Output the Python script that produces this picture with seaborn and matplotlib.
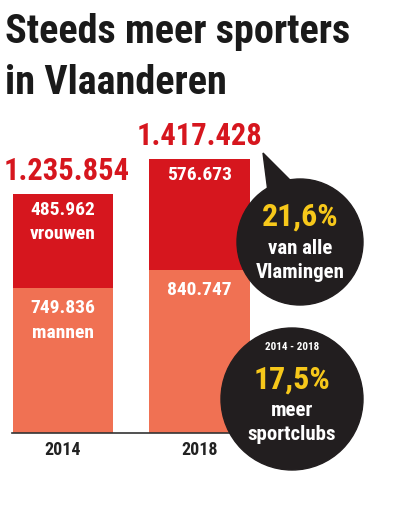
import pandas as pd
import matplotlib
matplotlib.use("Agg")
import matplotlib.pyplot as plt
import seaborn as sns
from matplotlib import font_manager
from matplotlib.patches import Circle, Polygon

# gegevens
jaren = ["2014", "2018"]
vrouwen = [485962, 576673]
mannen = [749836, 840747]
totaal = [1235854, 1417428]
totaal_tekst = ["1.235.854", "1.417.428"]
vrouwen_tekst = [["485.962", "vrouwen"], ["576.673"]]
mannen_tekst = [["749.836", "mannen"], ["840.747"]]

rood = "#d6161e"
zalm = "#f07153"
zwart = "#221e1f"
geel = "#f7c81a"

sns.set_theme(style="white")

# condensed lettertype kiezen als het er is
namen = {f.name for f in font_manager.fontManager.ttflist}
font = "DejaVu Sans"
for kandidaat in ["Roboto Condensed", "Liberation Sans Narrow", "Open Sans Condensed"]:
    if kandidaat in namen:
        font = kandidaat
        break
plt.rcParams["font.family"] = [font, "DejaVu Sans"]

df = pd.DataFrame({"jaar": jaren, "totaal": totaal, "mannen": mannen})

fig = plt.figure(figsize=(3.96, 5.13), dpi=100)
W, H = 396, 513
px = 1.5e6 / 290  # eenheden per pixel

# staafdiagram
ax = fig.add_axes([12.5 / W, (H - 433) / H, 237 / W, 290 / H])
sns.barplot(data=df, x="jaar", y="totaal", color=rood, width=0.73,
            saturation=1, ax=ax, edgecolor="none")
sns.barplot(data=df, x="jaar", y="mannen", color=zalm, width=0.73,
            saturation=1, ax=ax, edgecolor="none")
ax.set_xlim(-0.365, 1.365)
ax.set_ylim(0, 1.5e6)
ax.set_xlabel("")
ax.set_ylabel("")
ax.set_yticks([])
ax.tick_params(axis="x", length=0, pad=6, labelsize=13, labelcolor="#222222")
for lbl in ax.get_xticklabels():
    lbl.set_fontweight("bold")
for s in ["top", "right", "left"]:
    ax.spines[s].set_visible(False)
ax.spines["bottom"].set_color("#333333")
ax.spines["bottom"].set_linewidth(1.2)

for i in range(len(jaren)):
    ax.text(i + (0.03 if i == 0 else 0), totaal[i] + 23 * px, totaal_tekst[i],
            ha="center", va="center", color=rood, fontsize=22, fontweight="bold")
    for j, t in enumerate(vrouwen_tekst[i]):
        ax.text(i, totaal[i] - (16 + 24 * j) * px, t, ha="center", va="center",
                color="white", fontsize=14, fontweight="bold")
    for j, t in enumerate(mannen_tekst[i]):
        ax.text(i, mannen[i] - (20 + 25 * j) * px, t, ha="center", va="center",
                color="white", fontsize=14, fontweight="bold")

# overlay in pixels
ov = fig.add_axes([0, 0, 1, 1], zorder=5)
ov.set_xlim(0, W)
ov.set_ylim(H, 0)
ov.axis("off")
ov.patch.set_alpha(0)

ov.text(5, 43, "Steeds meer sporters", fontsize=29, fontweight="bold",
        color="#1a1a1a", va="baseline", ha="left")
ov.text(5, 94, "in Vlaanderen", fontsize=29, fontweight="bold",
        color="#1a1a1a", va="baseline", ha="left")

# ballon 1
ov.add_patch(Polygon([(263, 153), (268, 192), (292, 182)], closed=True,
                     color=zwart))
ov.add_patch(Circle((300, 242), 63, color=zwart))
ov.text(300, 217, "21,6%", ha="center", va="center", color=geel,
        fontsize=23, fontweight="bold")
ov.text(300, 248, "van alle", ha="center", va="center", color="white",
        fontsize=15, fontweight="bold")
ov.text(300, 273, "Vlamingen", ha="center", va="center", color="white",
        fontsize=15, fontweight="bold")

# ballon 2
ov.add_patch(Circle((292, 399), 71, color=zwart))
ov.text(292, 347, "2014 - 2018", ha="center", va="center", color="white",
        fontsize=8, fontweight="bold")
ov.text(292, 380, "17,5%", ha="center", va="center", color=geel,
        fontsize=23, fontweight="bold")
ov.text(292, 410, "meer", ha="center", va="center", color="white",
        fontsize=15, fontweight="bold")
ov.text(292, 435, "sportclubs", ha="center", va="center", color="white",
        fontsize=15, fontweight="bold")

fig.savefig("out.png", dpi=100)
